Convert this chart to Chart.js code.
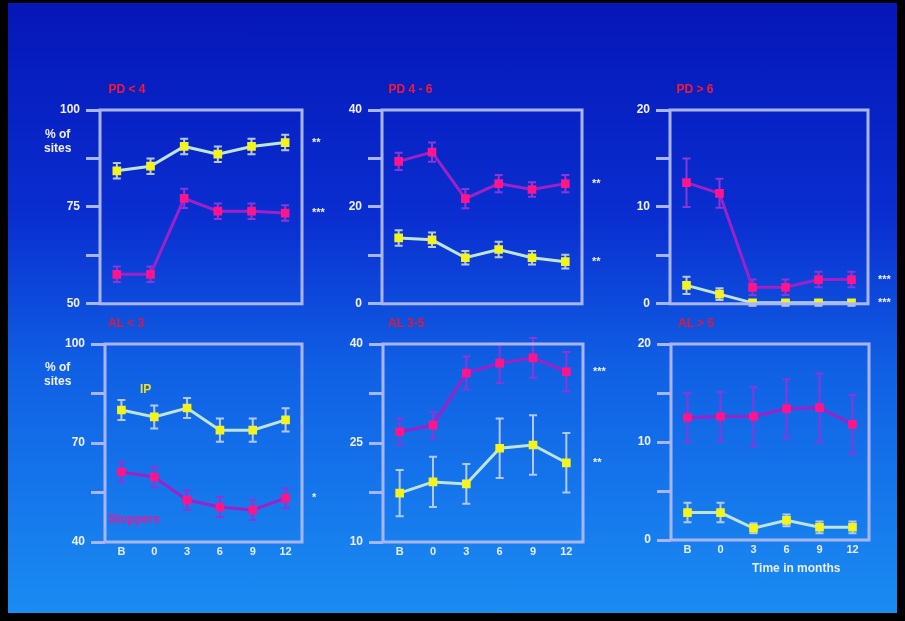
<!DOCTYPE html>
<html>
<head>
<meta charset="utf-8">
<script src="https://cdn.jsdelivr.net/npm/chart.js@4/dist/chart.umd.min.js"></script>
<style>
  html, body { margin: 0; padding: 0; background: #000; }
  #slide {
    position: absolute; left: 8px; top: 3px; width: 889px; height: 610px;
    background: linear-gradient(to bottom, #0616b8 0%, #0a2ed0 35%, #1060e4 60%, #1a8cf2 100%);
    overflow: hidden;
    font-family: "Liberation Sans", Arial, sans-serif;
  }
  .panel { position: absolute; }
  .txt { position: absolute; font-weight: bold; font-size: 12px; white-space: nowrap; }
  .title { color: #e0183c; }
  .ylab { color: #f0f0ff; text-align: center; line-height: 14px; }
</style>
</head>
<body>
<div id="slide"></div>
<script>
// time points on the x axis
const months = ['B', '0', '3', '6', '9', '12'];

const titles = ['PD < 4', 'PD 4 - 6', 'PD > 6', 'AL < 3', 'AL 3-5', 'AL > 5'];

// y axis ranges [min, max]
const yPD4 = [50, 100];
const yPD46 = [0, 40];
const yPD6 = [0, 20];
const yAL3 = [40, 100];
const yAL35 = [10, 40];
const yAL5 = [0, 20];

// IP group (yellow)
const ipPD4 = [84.3, 85.5, 90.6, 88.6, 90.6, 91.6];
const ipPD46 = [13.6, 13.2, 9.5, 11.2, 9.5, 8.7];
const ipPD6 = [1.9, 1.0, 0.1, 0.1, 0.1, 0.1];
const ipAL3 = [80.0, 77.9, 80.6, 73.9, 73.9, 77.0];
const ipAL35 = [17.4, 19.1, 18.8, 24.2, 24.7, 22.0];
const ipAL5 = [2.8, 2.8, 1.2, 2.0, 1.3, 1.3];

const ipPD4Err = [2, 2, 2, 2, 2, 2];
const ipPD46Err = [1.6, 1.5, 1.4, 1.6, 1.4, 1.4];
const ipPD6Err = [0.9, 0.6, 0.3, 0.3, 0.3, 0.3];
const ipAL3Err = [3, 3.5, 3, 3.5, 3.5, 3.5];
const ipAL35Err = [3.5, 3.8, 3, 4.5, 4.5, 4.5];
const ipAL5Err = [1, 1, 0.5, 0.6, 0.6, 0.6];

// Stoppers group (magenta)
const stPD4 = [57.6, 57.6, 77.2, 73.9, 73.9, 73.4];
const stPD46 = [29.4, 31.3, 21.7, 24.8, 23.6, 24.8];
const stPD6 = [12.5, 11.4, 1.7, 1.7, 2.5, 2.5];
const stAL3 = [61.2, 59.7, 52.7, 50.6, 49.7, 53.3];
const stAL35 = [26.7, 27.7, 35.6, 37.1, 37.9, 35.8];
const stAL5 = [12.5, 12.6, 12.6, 13.4, 13.5, 11.8];

const stPD4Err = [2, 2, 2.5, 2, 2, 2];
const stPD46Err = [1.8, 2, 2, 1.8, 1.5, 1.8];
const stPD6Err = [2.5, 1.5, 0.8, 0.8, 0.8, 0.8];
const stAL3Err = [3, 3, 3, 3, 3, 3];
const stAL35Err = [2, 2, 2.5, 3, 3, 3];
const stAL5Err = [2.5, 2.5, 3, 3, 3.5, 3];

// significance marks at the right end of each line
const ipSig = ['**', '**', '***', '', '**', ''];
const stSig = ['***', '**', '***', '*', '***', ''];

const frameColor = '#a9b6ff';
const ipColor = '#f4f41c';
const ipLine = '#bfe4dc';
const ipBar = '#b4c8f4';
const stColor = '#ff148c';
const stLine = '#a020c8';
const stBar = '#8a36d8';

const panels = [
  { ip: ipPD4, st: stPD4, ipE: ipPD4Err, stE: stPD4Err, y: yPD4, box: [100, 110, 302, 307], row: 0 },
  { ip: ipPD46, st: stPD46, ipE: ipPD46Err, stE: stPD46Err, y: yPD46, box: [382, 110, 582, 307], row: 0 },
  { ip: ipPD6, st: stPD6, ipE: ipPD6Err, stE: stPD6Err, y: yPD6, box: [670, 110, 868, 307], row: 0 },
  { ip: ipAL3, st: stAL3, ipE: ipAL3Err, stE: stAL3Err, y: yAL3, box: [105, 344, 302, 542], row: 1 },
  { ip: ipAL35, st: stAL35, ipE: ipAL35Err, stE: stAL35Err, y: yAL35, box: [383, 344, 583, 542], row: 1 },
  { ip: ipAL5, st: stAL5, ipE: ipAL5Err, stE: stAL5Err, y: yAL5, box: [671, 344, 869, 540], row: 1 }
];

// error bars, drawn under the lines
const errorBars = {
  id: 'errorBars',
  beforeDatasetsDraw(chart) {
    const ctx = chart.ctx;
    const ys = chart.scales.y;
    chart.data.datasets.forEach((ds, di) => {
      const meta = chart.getDatasetMeta(di);
      ctx.save();
      ctx.strokeStyle = ds.barColor;
      ctx.lineWidth = 2;
      meta.data.forEach((pt, i) => {
        const v = ds.data[i], e = ds.errors[i];
        const y1 = ys.getPixelForValue(v + e), y2 = ys.getPixelForValue(v - e);
        ctx.beginPath();
        ctx.moveTo(pt.x, y1); ctx.lineTo(pt.x, y2);
        ctx.moveTo(pt.x - 4, y1); ctx.lineTo(pt.x + 4, y1);
        ctx.moveTo(pt.x - 4, y2); ctx.lineTo(pt.x + 4, y2);
        ctx.stroke();
      });
      ctx.restore();
    });
  }
};

// box round the plot area plus the significance stars
const frameAndStars = {
  id: 'frameAndStars',
  afterDraw(chart) {
    const ctx = chart.ctx;
    const a = chart.chartArea;
    ctx.save();
    ctx.strokeStyle = frameColor;
    ctx.lineWidth = 3;
    ctx.strokeRect(a.left, a.top, a.right - a.left, a.bottom - a.top);
    ctx.fillStyle = '#eef0ff';
    ctx.font = 'bold 11px "Liberation Sans", Arial, sans-serif';
    ctx.textBaseline = 'middle';
    chart.data.datasets.forEach((ds) => {
      if (!ds.sig) return;
      const last = ds.data[ds.data.length - 1];
      ctx.fillText(ds.sig, a.right + 10, chart.scales.y.getPixelForValue(last));
    });
    ctx.restore();
  }
};

const slide = document.getElementById('slide');
const offX = 8, offY = 3;
const padL = 70, padR = 40, padT = 14;

function addText(text, x, y, cls, color) {
  const d = document.createElement('div');
  d.className = 'txt ' + cls;
  d.style.left = (x - offX) + 'px';
  d.style.top = (y - offY) + 'px';
  if (color) d.style.color = color;
  d.innerHTML = text;
  slide.appendChild(d);
}

panels.forEach((p, k) => {
  const [L, T, R, B] = p.box;
  const xH = p.row === 1 ? 18 : 0;
  const padB = p.row === 1 ? 2 : 10;
  const w = (R - L) + padL + padR;
  const h = (B - T) + padT + xH + padB;
  const div = document.createElement('div');
  div.className = 'panel';
  div.style.left = (L - padL - offX) + 'px';
  div.style.top = (T - padT - offY) + 'px';
  const cv = document.createElement('canvas');
  cv.width = w; cv.height = h;
  div.appendChild(cv);
  slide.appendChild(div);

  const [ymin, ymax] = p.y;
  new Chart(cv, {
    type: 'line',
    data: {
      labels: months,
      datasets: [
        {
          data: p.st, errors: p.stE, sig: stSig[k], barColor: stBar,
          borderColor: stLine, borderWidth: 3,
          pointStyle: 'rect', pointRadius: 4, pointBackgroundColor: stColor, pointBorderColor: stColor
        },
        {
          data: p.ip, errors: p.ipE, sig: ipSig[k], barColor: ipBar,
          borderColor: ipLine, borderWidth: 3,
          pointStyle: 'rect', pointRadius: 4, pointBackgroundColor: ipColor, pointBorderColor: ipColor
        }
      ]
    },
    options: {
      responsive: false,
      animation: false,
      layout: { padding: { left: 0, right: padR, top: padT, bottom: padB } },
      plugins: { legend: { display: false }, tooltip: { enabled: false } },
      scales: {
        x: {
          display: p.row === 1,
          offset: true,
          grid: { display: false, drawTicks: false },
          border: { display: false },
          ticks: { color: '#e8ecff', font: { size: 11, weight: 'bold' }, padding: 3, maxRotation: 0 },
          afterFit: (s) => { s.height = xH; }
        },
        y: {
          min: ymin, max: ymax,
          grid: { drawOnChartArea: false, color: frameColor, lineWidth: 3, tickLength: 14 },
          border: { display: false },
          ticks: {
            stepSize: (ymax - ymin) / 4,
            color: '#eef0ff', font: { size: 12, weight: 'bold' }, padding: 6,
            callback: (v, i) => (i % 2 === 0 ? String(v) : '')
          },
          afterFit: (s) => { s.width = padL; }
        }
      }
    },
    plugins: [errorBars, frameAndStars]
  });
});

// panel titles
const titlePos = [[108, 82], [388, 82], [676, 82], [108, 316], [388, 316], [678, 316]];
titles.forEach((t, i) => addText(t, titlePos[i][0], titlePos[i][1], 'title'));

addText('% of<br>sites', 44, 127, 'ylab');
addText('% of<br>sites', 44, 360, 'ylab');
addText('IP', 140, 382, '', '#f0e020');
addText('Stoppers', 108, 512, '', '#e01ca0');
addText('Time in months', 752, 561, '', '#e8ecff');
</script>
</body>
</html>
